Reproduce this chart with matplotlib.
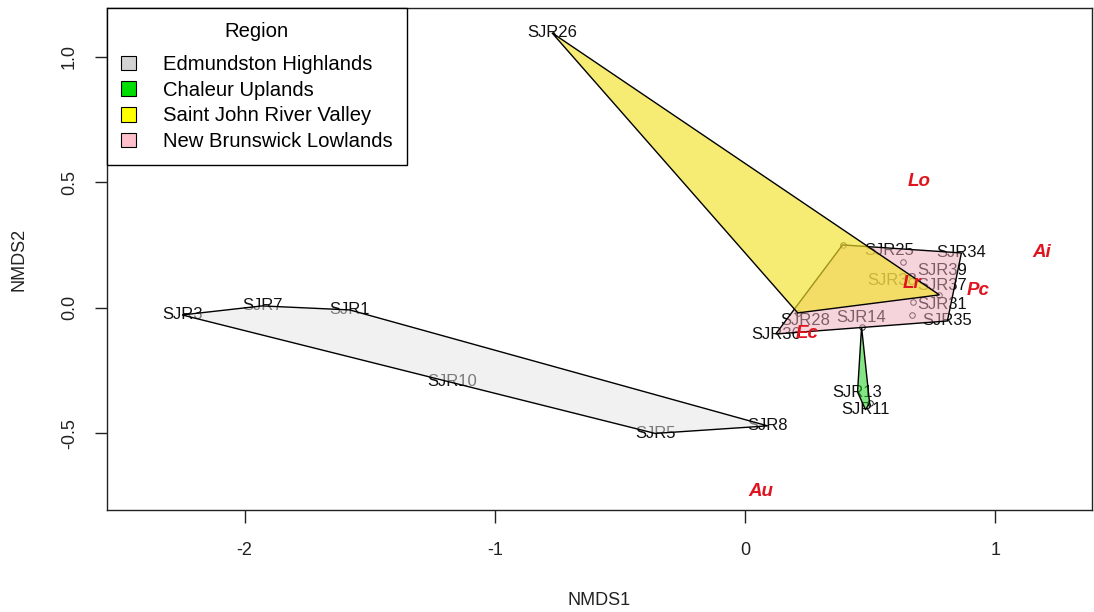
import numpy as np
import matplotlib.pyplot as plt
from matplotlib.patches import Polygon, Patch

plt.rcParams['font.family'] = ['Liberation Sans', 'DejaVu Sans']
plt.rcParams['axes.unicode_minus'] = False

# NMDS site scores, one group per region
# labelled False -> no room for the label, plotted as a small circle (orditorp style)
eh_names = ['SJR3', 'SJR7', 'SJR1', 'SJR10', 'SJR5', 'SJR8']
eh_x = [-2.25, -1.93, -1.58, -1.17, -0.36, 0.09]
eh_y = [-0.028, 0.008, -0.008, -0.295, -0.50, -0.47]
eh_lab = [True, True, True, True, True, True]

cu_names = ['SJR12', 'SJR13', 'SJR11', 'SJR15']
cu_x = [0.465, 0.449, 0.481, 0.497]
cu_y = [-0.076, -0.335, -0.406, -0.378]
cu_lab = [False, True, True, False]

sj_names = ['SJR26', 'SJR24', 'SJR27', 'SJR38']
sj_x = [-0.772, 0.776, 0.210, 0.589]
sj_y = [1.096, 0.052, -0.020, 0.108]
sj_lab = [True, False, False, True]

nb_names = ['SJR29', 'SJR34', 'SJR35', 'SJR36', 'SJR39', 'SJR37', 'SJR31',
            'SJR14', 'SJR28', 'SJR25', 'SJR32', 'SJR33', 'SJR40']
nb_x = [0.389, 0.864, 0.808, 0.122, 0.788, 0.788, 0.788,
        0.465, 0.241, 0.577, 0.669, 0.665, 0.629]
nb_y = [0.251, 0.219, -0.052, -0.104, 0.151, 0.088, 0.012,
        -0.040, -0.052, 0.227, 0.024, -0.028, 0.183]
nb_lab = [False, True, True, True, True, True, True,
          True, True, True, False, False, False]

# species scores
sp_names = ['Lo', 'Ai', 'Pc', 'Lr', 'Ec', 'Au']
sp_x = [0.697, 1.184, 0.932, 0.665, 0.249, 0.062]
sp_y = [0.502, 0.219, 0.068, 0.096, -0.100, -0.733]

regions = ['Edmundston Highlands', 'Chaleur Uplands',
           'Saint John River Valley', 'New Brunswick Lowlands']
legend_cols = ['#d3d3d3', '#00dd00', '#ffff00', '#ffc0cb']
hull_cols = ['#e4e4e4', '#20d020', '#f2e228', '#eeaab8']
hull_alpha = [0.5, 0.55, 0.65, 0.5]

groups = [(eh_names, eh_x, eh_y, eh_lab),
          (cu_names, cu_x, cu_y, cu_lab),
          (sj_names, sj_x, sj_y, sj_lab),
          (nb_names, nb_x, nb_y, nb_lab)]


def hull(pts):
    # monotone chain convex hull
    pts = sorted(set(pts))
    def cross(o, a, b):
        return (a[0]-o[0])*(b[1]-o[1]) - (a[1]-o[1])*(b[0]-o[0])
    lower, upper = [], []
    for p in pts:
        while len(lower) >= 2 and cross(lower[-2], lower[-1], p) <= 0:
            lower.pop()
        lower.append(p)
    for p in reversed(pts):
        while len(upper) >= 2 and cross(upper[-2], upper[-1], p) <= 0:
            upper.pop()
        upper.append(p)
    return lower[:-1] + upper[:-1]


fig = plt.figure(figsize=(10.94, 6.12), dpi=100)
ax = fig.add_axes([0.0978, 0.1667, 0.9002, 0.8203])

# site labels / points first, hulls go over them
for names, xs, ys, lab in groups:
    for n, x, y, l in zip(names, xs, ys, lab):
        if l:
            ax.text(x, y, n, fontsize=12, ha='center', va='center', color='#111111')
        else:
            ax.plot(x, y, 'o', mfc='none', mec='#222222', ms=4, mew=0.7)

# draw order as in ordihull (factor levels alphabetical)
for i in [1, 0, 3, 2]:
    names, xs, ys, lab = groups[i]
    h = hull(list(zip(xs, ys)))
    ax.add_patch(Polygon(h, closed=True, facecolor=hull_cols[i], alpha=hull_alpha[i],
                         edgecolor='none', zorder=3))
    ax.add_patch(Polygon(h, closed=True, facecolor='none', edgecolor='black',
                         lw=1.0, zorder=3))

for n, x, y in zip(sp_names, sp_x, sp_y):
    ax.text(x, y, n, fontsize=13.5, fontweight='bold', fontstyle='italic',
            color='#e0141e', ha='center', va='center', zorder=5)

ax.set_xlim(-2.55, 1.385)
ax.set_ylim(-0.805, 1.195)
ax.set_xticks([-2, -1, 0, 1])
ax.set_yticks([-0.5, 0.0, 0.5, 1.0])
ax.set_xticklabels(['-2', '-1', '0', '1'])
ax.set_yticklabels(['-0.5', '0.0', '0.5', '1.0'], rotation=90, va='center')
ax.tick_params(length=9, width=1, labelsize=13, pad=14, colors='#222222')
ax.tick_params(axis='y', pad=12)
for s in ax.spines.values():
    s.set_linewidth(1.0)
    s.set_color('#222222')
ax.set_xlabel('NMDS1', fontsize=13, labelpad=24, color='#222222')
ax.set_ylabel('NMDS2', fontsize=13, labelpad=24, color='#222222')

handles = [Patch(facecolor=c, edgecolor='black', lw=0.8) for c in legend_cols]
leg = ax.legend(handles, regions, title='Region', loc='upper left', fontsize=14.6,
                title_fontsize=14.6, fancybox=False, edgecolor='black', framealpha=1,
                borderaxespad=0, handlelength=0.75, handleheight=0.75,
                labelspacing=0.33, handletextpad=1.3, borderpad=0.7)
leg._legend_box.sep = 10  # extra room under the title, like R's legend
leg.get_frame().set_linewidth(1.0)
leg.set_zorder(6)

fig.savefig('out.png', dpi=100)
